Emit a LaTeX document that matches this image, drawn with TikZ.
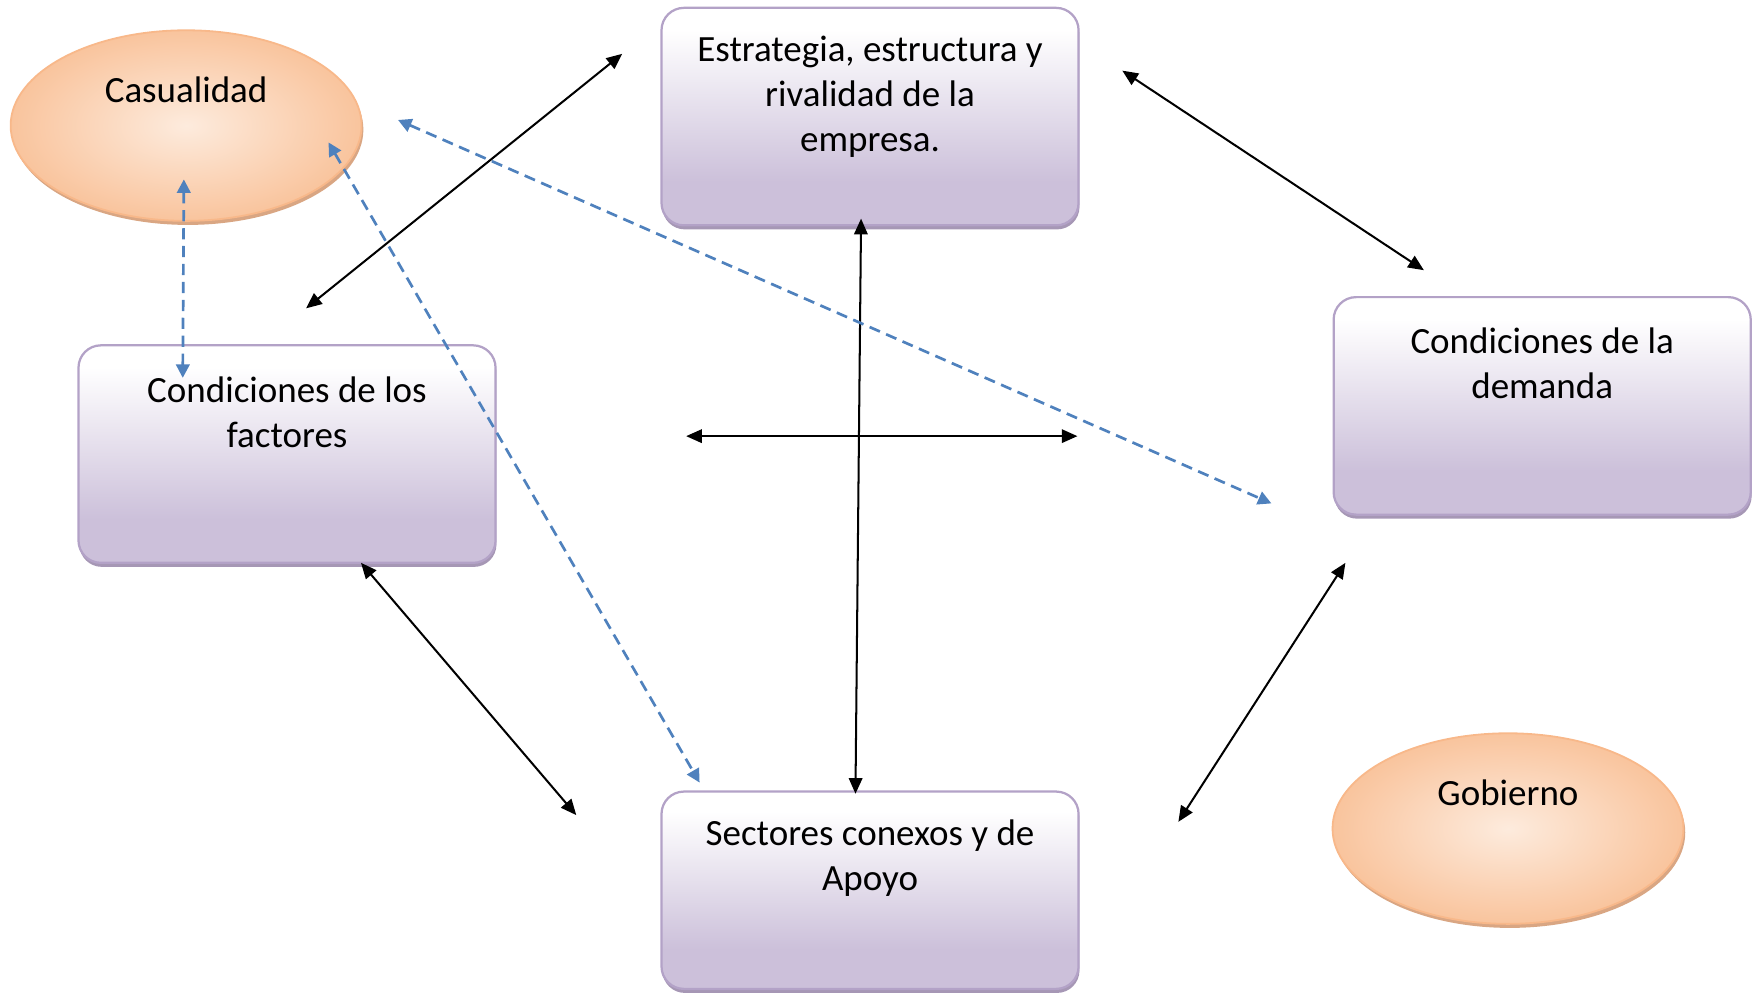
\documentclass[tikz,border=0pt]{standalone}
\usepackage{fontspec}
\setmainfont{Carlito}
\usetikzlibrary{shapes.geometric,arrows.meta,shadows}
\definecolor{lav}{HTML}{CCC0DA}
\definecolor{lavborder}{HTML}{B3A2C7}
\definecolor{lavshadow}{HTML}{A697B5}
\definecolor{orin}{HTML}{FDEBDD}
\definecolor{orout}{HTML}{F9C49D}
\definecolor{orborder}{HTML}{F8B88A}
\definecolor{orshadow}{HTML}{D9A683}
\definecolor{dashblue}{HTML}{4F81BD}
\pgfdeclareverticalshading{boxshade}{100bp}{color(0bp)=(lav); color(25bp)=(lav); color(35bp)=(lav); color(70bp)=(white); color(100bp)=(white)}
\begin{document}
\begin{tikzpicture}[x=0.5pt,y=-0.5pt,
  box/.style={rectangle, rounded corners=10pt, draw=lavborder, line width=1pt,
    shading=boxshade, minimum width=186pt, minimum height=97pt, inner sep=0pt,
    general shadow={fill=lavshadow, shadow yshift=-1.8pt, shadow xshift=0.4pt}},
  oval/.style={ellipse, draw=orborder, line width=0.8pt, inner color=orin, outer color=orout,
    minimum width=156.5pt, minimum height=85pt, inner sep=0pt,
    general shadow={fill=orshadow, shadow yshift=-1.8pt, shadow xshift=0.8pt}},
  lbl/.style={font=\fontsize{16.5}{20}\selectfont, align=center, inner sep=0pt, text=black},
  blk/.style={{Triangle[length=7pt,width=6pt]}-{Triangle[length=7pt,width=6pt]}, line width=0.9pt, black},
  bdash/.style={{Triangle[length=6pt,width=6pt]}-{Triangle[length=6pt,width=6pt]}, line width=1.2pt, dashblue, dash pattern=on 5pt off 3pt}
]
\useasboundingbox (0,0) rectangle (1568,885);
% shapes
\node[oval] (cas) at (166,112) {};
\node[oval] (gob) at (1345,739) {};
\node[box] (est) at (776,104) {};
\node[box] (dem) at (1375.5,362) {};
\node[box] (fac) at (256,405) {};
\node[box, minimum height=88pt] (sec) at (776,794) {};
% texts
\node[lbl] (tcas) at (166,80) {Casualidad};
\node[lbl] (tgob) at (1345,707) {Gobierno};
\node[lbl] (test) at (776,86) {Estrategia, estructura y\\rivalidad de la\\empresa.};
\node[lbl] (tdem) at (1375.5,324) {Condiciones de la\\demanda};
\node[lbl] (tfac) at (256,368) {Condiciones de los\\factores};
\node[lbl] (tsec) at (776,765) {Sectores conexos y de\\Apoyo};
% free arrow ends
\coordinate (a1) at (555,48);   \coordinate (a2) at (273,275);
\coordinate (b1) at (1001,63);  \coordinate (b2) at (1270,241);
\coordinate (c1) at (768,195);  \coordinate (c2) at (763,708);
\coordinate (d1) at (612,389);  \coordinate (d2) at (961,389);
\coordinate (e1) at (322,502);  \coordinate (e2) at (514,727);
\coordinate (f1) at (1200,502); \coordinate (f2) at (1051,733);
\coordinate (g1) at (164,160);  \coordinate (g2) at (163,337);
\coordinate (h1) at (293,127);  \coordinate (h2) at (624,698);
\coordinate (k1) at (355,107);  \coordinate (k2) at (1134,449);
% connectors
\draw[blk] (a1) -- (a2);
\draw[blk] (b1) -- (b2);
\draw[blk] (c1) -- (c2);
\draw[blk] (d1) -- (d2);
\draw[blk] (e1) -- (e2);
\draw[blk] (f1) -- (f2);
\draw[bdash] (g1) -- (g2);
\draw[bdash] (h1) -- (h2);
\draw[bdash] (k1) -- (k2);
\end{tikzpicture}
\end{document}
